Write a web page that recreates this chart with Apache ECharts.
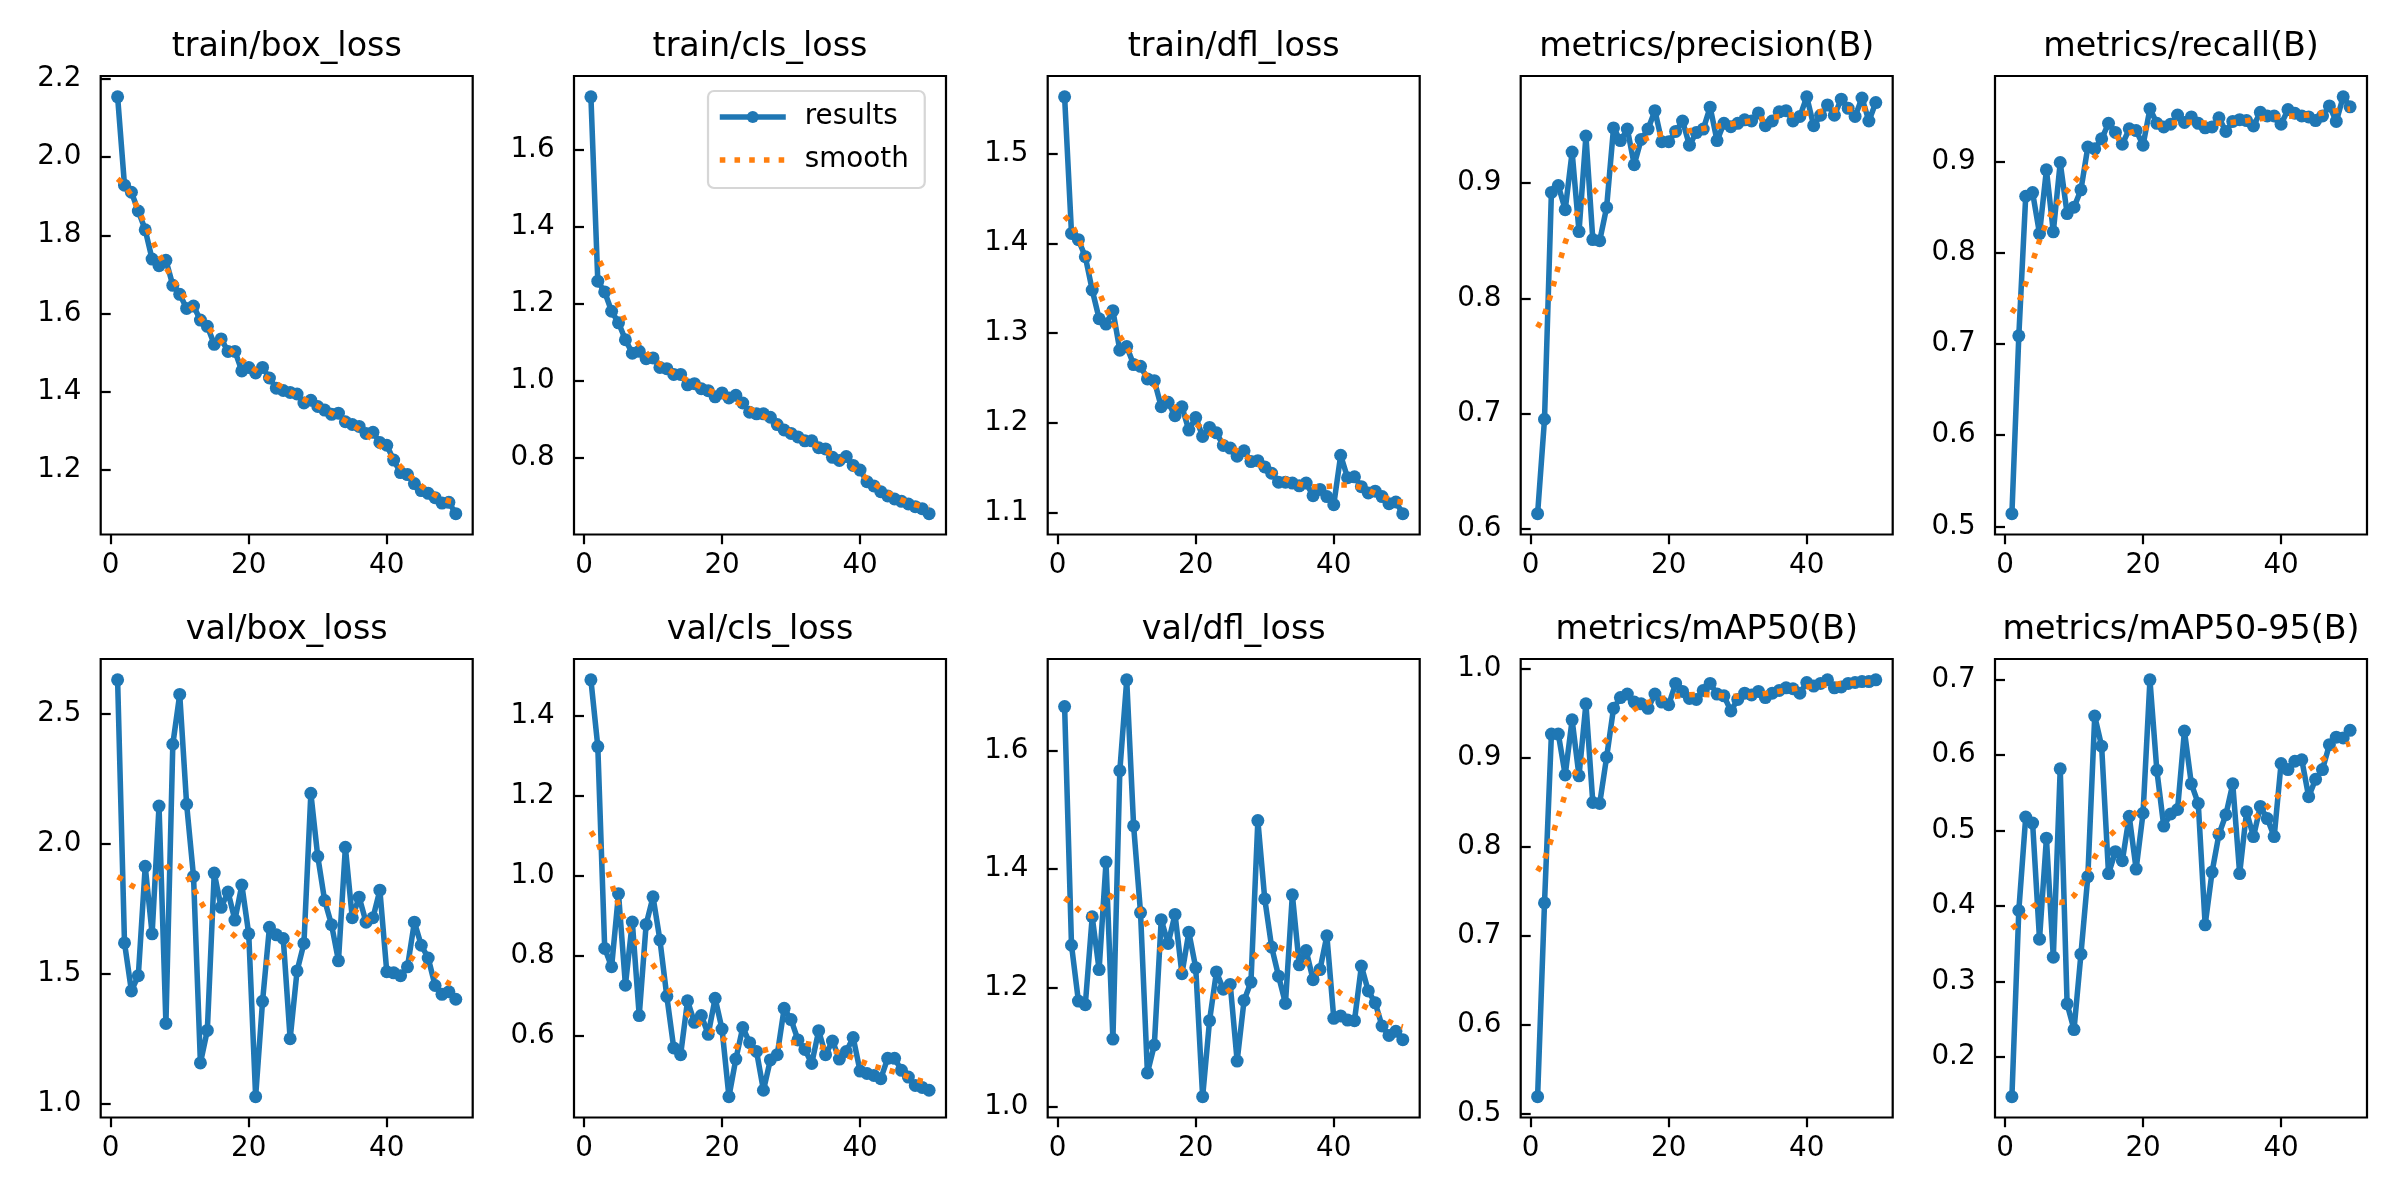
<!DOCTYPE html>
<html>
<head>
<meta charset="utf-8">
<script src="https://cdn.jsdelivr.net/npm/echarts@6/dist/echarts.min.js"></script>
<style>
html,body{margin:0;padding:0;background:#ffffff;}
#c{width:2400px;height:1200px;}
</style>
</head>
<body>
<div id="c"></div>
<script>
// ---------------- DATA ----------------
const epochs = [1,2,3,4,5,6,7,8,9,10,11,12,13,14,15,16,17,18,19,20,21,22,23,24,25,
                26,27,28,29,30,31,32,33,34,35,36,37,38,39,40,41,42,43,44,45,46,47,48,49,50];

const trainBoxLoss = [2.154,1.928,1.910,1.862,1.814,1.739,1.722,1.736,1.672,1.649,
                      1.613,1.619,1.583,1.567,1.521,1.535,1.503,1.503,1.453,1.462,
                      1.448,1.462,1.435,1.409,1.403,1.398,1.394,1.371,1.378,1.362,
                      1.353,1.342,1.345,1.323,1.316,1.311,1.293,1.296,1.270,1.263,
                      1.225,1.193,1.188,1.165,1.147,1.140,1.129,1.115,1.117,1.088];

const trainClsLoss = [1.737,1.259,1.231,1.181,1.151,1.107,1.072,1.077,1.058,1.060,
                      1.035,1.032,1.017,1.017,0.990,0.993,0.980,0.975,0.959,0.969,
                      0.956,0.963,0.943,0.919,0.915,0.915,0.906,0.887,0.873,0.864,
                      0.855,0.845,0.845,0.827,0.824,0.802,0.794,0.804,0.781,0.769,
                      0.739,0.728,0.713,0.702,0.694,0.688,0.681,0.674,0.669,0.656];

const trainDflLoss = [1.563,1.411,1.404,1.385,1.348,1.316,1.310,1.325,1.281,1.285,
                      1.265,1.263,1.249,1.247,1.218,1.223,1.208,1.218,1.192,1.206,
                      1.185,1.195,1.189,1.175,1.172,1.163,1.169,1.157,1.158,1.151,
                      1.144,1.134,1.134,1.133,1.130,1.133,1.119,1.126,1.118,1.109,
                      1.164,1.139,1.140,1.129,1.122,1.124,1.118,1.110,1.112,1.099];

const precisionB = [0.613,0.695,0.892,0.898,0.877,0.927,0.858,0.941,0.851,0.850,
                    0.879,0.948,0.937,0.947,0.916,0.938,0.947,0.963,0.936,0.936,
                    0.945,0.954,0.933,0.944,0.947,0.966,0.937,0.952,0.949,0.952,
                    0.955,0.954,0.961,0.950,0.954,0.962,0.963,0.954,0.958,0.975,
                    0.950,0.959,0.968,0.959,0.973,0.965,0.958,0.974,0.954,0.970];

const recallB = [0.514,0.709,0.862,0.866,0.821,0.891,0.823,0.899,0.843,0.850,
                 0.869,0.916,0.914,0.925,0.942,0.932,0.919,0.936,0.934,0.918,
                 0.958,0.942,0.938,0.941,0.951,0.943,0.949,0.942,0.937,0.938,
                 0.948,0.933,0.944,0.946,0.945,0.939,0.954,0.950,0.950,0.941,
                 0.957,0.953,0.950,0.949,0.945,0.950,0.961,0.944,0.971,0.960];

const valBoxLoss = [2.631,1.618,1.433,1.492,1.913,1.653,2.145,1.308,2.383,2.575,
                    2.152,1.874,1.156,1.281,1.887,1.755,1.814,1.706,1.841,1.653,
                    1.026,1.393,1.678,1.649,1.635,1.249,1.510,1.616,2.194,1.951,
                    1.781,1.688,1.549,1.986,1.715,1.794,1.698,1.715,1.821,1.507,
                    1.503,1.492,1.526,1.698,1.609,1.560,1.454,1.420,1.430,1.401];

const valClsLoss = [1.491,1.324,0.819,0.773,0.956,0.727,0.885,0.651,0.879,0.948,
                    0.840,0.699,0.570,0.553,0.688,0.634,0.651,0.604,0.694,0.617,
                    0.448,0.542,0.621,0.583,0.561,0.464,0.540,0.553,0.669,0.641,
                    0.590,0.566,0.531,0.613,0.553,0.587,0.542,0.561,0.596,0.512,
                    0.506,0.501,0.493,0.544,0.544,0.514,0.497,0.476,0.471,0.464];

const valDflLoss = [1.674,1.272,1.178,1.172,1.320,1.231,1.412,1.114,1.566,1.719,
                    1.473,1.327,1.057,1.104,1.315,1.275,1.324,1.224,1.294,1.234,
                    1.017,1.145,1.227,1.198,1.206,1.077,1.179,1.210,1.482,1.350,
                    1.269,1.220,1.174,1.357,1.239,1.263,1.214,1.231,1.288,1.149,
                    1.153,1.146,1.145,1.237,1.195,1.175,1.136,1.120,1.127,1.113];

const mAP50B = [0.519,0.737,0.927,0.927,0.881,0.943,0.880,0.961,0.850,0.849,
                0.901,0.956,0.968,0.972,0.963,0.961,0.956,0.972,0.963,0.960,
                0.984,0.975,0.967,0.966,0.976,0.984,0.972,0.970,0.953,0.966,
                0.973,0.971,0.975,0.968,0.973,0.976,0.979,0.978,0.973,0.985,
                0.981,0.984,0.988,0.979,0.980,0.984,0.985,0.986,0.986,0.988];

const mAP5095B = [0.147,0.394,0.518,0.510,0.356,0.490,0.332,0.582,0.270,0.236,
                  0.336,0.439,0.652,0.612,0.443,0.472,0.460,0.519,0.449,0.523,
                  0.700,0.580,0.506,0.522,0.528,0.632,0.562,0.536,0.375,0.445,
                  0.495,0.521,0.562,0.443,0.525,0.492,0.532,0.516,0.492,0.589,
                  0.581,0.592,0.594,0.545,0.568,0.581,0.614,0.624,0.623,0.633];

const panelTitles = ['train/box_loss','train/cls_loss','train/dfl_loss','metrics/precision(B)','metrics/recall(B)',
                     'val/box_loss','val/cls_loss','val/dfl_loss','metrics/mAP50(B)','metrics/mAP50-95(B)'];
const panelValues = [trainBoxLoss, trainClsLoss, trainDflLoss, precisionB, recallB,
                     valBoxLoss, valClsLoss, valDflLoss, mAP50B, mAP5095B];

const xTickLabels = [0, 20, 40];
const yTickLabels = [
  [1.2,1.4,1.6,1.8,2.0,2.2],
  [0.8,1.0,1.2,1.4,1.6],
  [1.1,1.2,1.3,1.4,1.5],
  [0.6,0.7,0.8,0.9],
  [0.5,0.6,0.7,0.8,0.9],
  [1.0,1.5,2.0,2.5],
  [0.6,0.8,1.0,1.2,1.4],
  [1.0,1.2,1.4,1.6],
  [0.5,0.6,0.7,0.8,0.9,1.0],
  [0.2,0.3,0.4,0.5,0.6,0.7]
];

// ---------------- smoothing used by the source chart (gaussian_filter1d, sigma=3, reflect) ----------------
function gaussianFilter1d(y, sigma) {
  const n = y.length, r = Math.floor(4 * sigma + 0.5);
  const w = []; let s = 0;
  for (let k = -r; k <= r; k++) { const v = Math.exp(-0.5 * k * k / (sigma * sigma)); w.push(v); s += v; }
  const reflect = j => { while (j < 0 || j >= n) { if (j < 0) j = -j - 1; if (j >= n) j = 2 * n - j - 1; } return j; };
  return y.map((_, i) => { let acc = 0; for (let k = -r; k <= r; k++) acc += w[k + r] * y[reflect(i + k)]; return acc / s; });
}

// ---------------- LAYOUT / STYLE ----------------
const FONT = 'DejaVu Sans';
const PX = 200 / 72;               // points -> pixels at 200 dpi
const GRID_LEFT = [100.7, 574, 1047.7, 1520.7, 1995];
const GRID_W = 372;
const ROW_TOP = [76, 659];
const GRID_H = 458.5;
const BLUE = '#1f77b4', ORANGE = '#ff7f0e';
const DOTS = [2 * PX, 3.3 * PX];

function padRange(arr) {
  const lo = Math.min(...arr), hi = Math.max(...arr), p = 0.05 * (hi - lo);
  return [lo - p, hi + p];
}

const grids = [], xAxes = [], yAxes = [], series = [], graphics = [];
const xr = padRange(epochs);

panelValues.forEach((vals, i) => {
  const col = i % 5, row = Math.floor(i / 5);
  const left = GRID_LEFT[col], top = ROW_TOP[row];
  grids.push({
    left: left, top: top, width: GRID_W, height: GRID_H,
    show: true, borderColor: '#000', borderWidth: 0.8 * PX, backgroundColor: 'rgba(0,0,0,0)',
    containLabel: false, outerBoundsMode: 'none'
  });
  const yr = padRange(vals);
  const axisCommon = {
    axisLine: { show: false },
    splitLine: { show: false },
    axisTick: { show: true, inside: false, length: 3.5 * PX, lineStyle: { color: '#000', width: 0.8 * PX } },
  };
  xAxes.push(Object.assign({}, axisCommon, {
    type: 'value', gridIndex: i, min: xr[0], max: xr[1],
    axisTick: Object.assign({}, axisCommon.axisTick, { customValues: xTickLabels }),
    axisLabel: { customValues: xTickLabels, margin: 17, fontSize: 10 * PX, fontFamily: FONT, color: '#000',
                 formatter: v => String(Math.round(v)) }
  }));
  yAxes.push(Object.assign({}, axisCommon, {
    type: 'value', gridIndex: i, min: yr[0], max: yr[1],
    axisTick: Object.assign({}, axisCommon.axisTick, { customValues: yTickLabels[i] }),
    axisLabel: { customValues: yTickLabels[i], margin: 19.4, fontSize: 10 * PX, fontFamily: FONT, color: '#000',
                 formatter: v => Number(v).toFixed(1) }
  }));
  series.push({
    type: 'line', name: 'results', xAxisIndex: i, yAxisIndex: i,
    data: epochs.map((e, k) => [e, vals[k]]),
    symbol: 'circle', symbolSize: 13, showSymbol: true,
    lineStyle: { color: BLUE, width: 2 * PX, join: 'round', cap: 'round' },
    itemStyle: { color: BLUE, borderWidth: 0 },
    emphasis: { disabled: true }, silent: true, z: 2
  });
  const sm = gaussianFilter1d(vals, 3);
  series.push({
    type: 'line', name: 'smooth', xAxisIndex: i, yAxisIndex: i,
    data: epochs.map((e, k) => [e, sm[k]]),
    symbol: 'none',
    lineStyle: { color: ORANGE, width: 2 * PX, type: DOTS, cap: 'butt' },
    itemStyle: { color: ORANGE },
    emphasis: { disabled: true }, silent: true, z: 3
  });
  graphics.push({
    type: 'text', x: left + GRID_W / 2, y: top - 45, silent: true,
    style: { text: panelTitles[i], fontFamily: FONT, fontSize: 12 * PX, fill: '#000',
             textAlign: 'center', textVerticalAlign: 'top' }
  });
});

const chart = echarts.init(document.getElementById('c'), null, { renderer: 'canvas', width: 2400, height: 1200 });
chart.setOption({
  animation: false,
  backgroundColor: '#ffffff',
  grid: grids,
  xAxis: xAxes,
  yAxis: yAxes,
  series: series,
  graphic: graphics,
  legend: {
    show: true, orient: 'vertical', left: 708, top: 91,
    padding: [12, 16, 14, 9],
    backgroundColor: 'rgba(255,255,255,0.8)',
    borderColor: 'rgba(204,204,204,0.8)', borderWidth: 0.8 * PX, borderRadius: 6,
    itemWidth: 66, itemHeight: 15, itemGap: 15,
    textStyle: { fontFamily: FONT, fontSize: 10 * PX, color: '#000', padding: [0, 0, 0, 14] },
    data: [
      { name: 'results', lineStyle: { color: BLUE, width: 2 * PX, type: 'solid', cap: 'butt' },
        itemStyle: { color: BLUE, borderWidth: 0 } },
      { name: 'smooth', lineStyle: { color: ORANGE, width: 2 * PX, type: DOTS, cap: 'butt' },
        itemStyle: { opacity: 0 } }
    ],
    selectedMode: false
  }
});
</script>
</body>
</html>
